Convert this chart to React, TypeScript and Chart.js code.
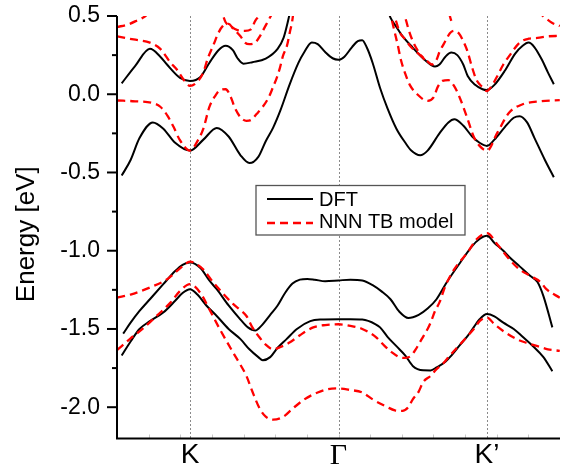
import React, { useEffect, useRef } from 'react';
import { Chart, registerables } from 'chart.js';

Chart.register(...registerables);

type P = [number, number];

// k-path coordinate: K = -1, Γ = 0, K' = 1
const K_POS = [-1, 0, 1];
const K_LABELS = ['K', 'Γ', 'K\u2019'];
const Y_MAJOR = [-2.0, -1.5, -1.0, -0.5, 0.0, 0.5];
const Y_MINOR = [-1.75, -1.25, -0.75, -0.25, 0.25];
const X_MIN = -1.4916;
const X_MAX = 1.4916;
const Y_MIN = -2.2;
const Y_MAX = 0.5;
const LEGEND_LABELS = ['DFT', 'NNN TB model'];
const Y_TITLE = 'Energy [eV]';

// ---------- DFT bands (black, solid) ----------
const dftA1: P[] = [
  [-1.46, 0.07], [-1.37, 0.18], [-1.27, 0.29], [-1.2, 0.24], [-1.155, 0.19], [-1.067, 0.105],
  [-1.0, 0.085], [-0.93, 0.11], [-0.87, 0.2], [-0.81, 0.28], [-0.76, 0.31], [-0.71, 0.28],
  [-0.68, 0.23], [-0.64, 0.195], [-0.58, 0.205], [-0.49, 0.228], [-0.41, 0.29], [-0.37, 0.36],
  [-0.34, 0.468], [-0.31, 0.6],
];
const dftA2: P[] = [
  [0.335, 0.53], [0.35, 0.49], [0.39, 0.43], [0.43, 0.373], [0.5, 0.298], [0.58, 0.22],
  [0.65, 0.177], [0.68, 0.19], [0.72, 0.24], [0.76, 0.266], [0.8, 0.25], [0.84, 0.19],
  [0.87, 0.117], [0.92, 0.06], [0.97, 0.032], [1.0, 0.027], [1.05, 0.06], [1.12, 0.15],
  [1.19, 0.26], [1.24, 0.31], [1.28, 0.33], [1.32, 0.3], [1.37, 0.22], [1.41, 0.14], [1.45, 0.064],
];
const dftB: P[] = [
  [-1.46, -0.52], [-1.4, -0.42], [-1.34, -0.28], [-1.25, -0.18], [-1.18, -0.22], [-1.1, -0.31],
  [-1.0, -0.36], [-0.91, -0.29], [-0.82, -0.215], [-0.74, -0.27], [-0.66, -0.39], [-0.6, -0.44],
  [-0.54, -0.4], [-0.49, -0.3], [-0.44, -0.213], [-0.39, -0.1], [-0.33, 0.06], [-0.27, 0.2],
  [-0.23, 0.27], [-0.18, 0.33], [-0.14, 0.32], [-0.09, 0.27], [-0.04, 0.23], [0.0, 0.22],
  [0.04, 0.24], [0.09, 0.3], [0.13, 0.34], [0.16, 0.345], [0.19, 0.3], [0.23, 0.2],
  [0.28, 0.04], [0.33, -0.09], [0.39, -0.22], [0.45, -0.31], [0.49, -0.36], [0.55, -0.39],
  [0.6, -0.36], [0.68, -0.25], [0.74, -0.18], [0.78, -0.16], [0.84, -0.2], [0.9, -0.27],
  [0.95, -0.31], [1.0, -0.33], [1.05, -0.29], [1.12, -0.21], [1.18, -0.15], [1.22, -0.14],
  [1.27, -0.18], [1.32, -0.28], [1.39, -0.42], [1.45, -0.53],
];
const dftC: P[] = [
  [-1.45, -1.53], [-1.4, -1.46], [-1.34, -1.385], [-1.27, -1.31], [-1.18, -1.214], [-1.1, -1.13],
  [-1.05, -1.09], [-1.0, -1.075], [-0.93, -1.11], [-0.87, -1.19], [-0.82, -1.246], [-0.74, -1.35],
  [-0.66, -1.44], [-0.61, -1.49], [-0.56, -1.51], [-0.52, -1.48], [-0.46, -1.41], [-0.41, -1.35],
  [-0.36, -1.27], [-0.31, -1.21], [-0.26, -1.185], [-0.21, -1.18], [-0.16, -1.185], [-0.09, -1.195],
  [0.0, -1.19], [0.08, -1.185], [0.16, -1.19], [0.23, -1.22], [0.29, -1.26], [0.35, -1.31],
  [0.41, -1.39], [0.47, -1.43], [0.54, -1.41], [0.6, -1.37], [0.66, -1.31], [0.73, -1.2],
  [0.82, -1.075], [0.9, -0.97], [0.95, -0.925], [1.0, -0.905], [1.05, -0.95], [1.11, -1.0],
  [1.15, -1.04], [1.22, -1.1], [1.29, -1.16], [1.34, -1.2], [1.38, -1.29], [1.44, -1.49],
];
const dftD: P[] = [
  [-1.46, -1.67], [-1.4, -1.58], [-1.34, -1.5], [-1.27, -1.45], [-1.18, -1.395], [-1.1, -1.32],
  [-1.05, -1.27], [-1.0, -1.246], [-0.95, -1.28], [-0.89, -1.35], [-0.82, -1.417], [-0.74, -1.5],
  [-0.66, -1.565], [-0.6, -1.63], [-0.54, -1.68], [-0.51, -1.7], [-0.46, -1.68], [-0.41, -1.62],
  [-0.35, -1.565], [-0.28, -1.5], [-0.19, -1.45], [-0.12, -1.44], [0.0, -1.438], [0.08, -1.438],
  [0.16, -1.44], [0.25, -1.47], [0.28, -1.49], [0.33, -1.55], [0.39, -1.61], [0.45, -1.67],
  [0.5, -1.736], [0.57, -1.764], [0.62, -1.765], [0.66, -1.746], [0.72, -1.71], [0.76, -1.67],
  [0.82, -1.6], [0.87, -1.544], [0.91, -1.49], [0.95, -1.438], [1.0, -1.405], [1.05, -1.42],
  [1.11, -1.46], [1.18, -1.5], [1.24, -1.55], [1.31, -1.61], [1.38, -1.68], [1.44, -1.77],
];

// ---------- NNN TB model bands (red, dashed) ----------
const tbR1: P[] = [
  [-1.49, -1.3], [-1.4, -1.28], [-1.27, -1.235], [-1.15, -1.18], [-1.1, -1.14], [-1.05, -1.1],
  [-1.0, -1.07], [-0.95, -1.09], [-0.9, -1.13], [-0.87, -1.17], [-0.8, -1.25], [-0.71, -1.34],
  [-0.66, -1.38], [-0.62, -1.417], [-0.58, -1.49], [-0.54, -1.544], [-0.49, -1.6], [-0.44, -1.63],
  [-0.39, -1.615], [-0.33, -1.587], [-0.26, -1.54], [-0.17, -1.49], [-0.09, -1.475], [0.0, -1.47],
  [0.08, -1.48], [0.16, -1.5], [0.25, -1.55], [0.31, -1.608], [0.36, -1.65], [0.41, -1.68],
  [0.45, -1.685], [0.49, -1.67], [0.52, -1.63], [0.56, -1.565], [0.6, -1.5], [0.62, -1.46],
  [0.65, -1.385], [0.68, -1.33], [0.72, -1.225], [0.78, -1.118], [0.87, -1.01], [0.93, -0.927],
  [1.0, -0.888], [1.07, -0.96], [1.15, -1.054], [1.22, -1.12], [1.29, -1.16], [1.36, -1.2],
  [1.4, -1.246], [1.49, -1.3],
];
const tbR2: P[] = [
  [-1.49, -1.634], [-1.4, -1.56], [-1.32, -1.5], [-1.24, -1.43], [-1.13, -1.33], [-1.07, -1.26],
  [-1.0, -1.214], [-0.93, -1.27], [-0.87, -1.374], [-0.8, -1.5], [-0.71, -1.65], [-0.66, -1.73],
  [-0.62, -1.8], [-0.58, -1.9], [-0.53, -2.01], [-0.49, -2.06], [-0.44, -2.08], [-0.37, -2.06],
  [-0.31, -2.01], [-0.23, -1.95], [-0.14, -1.906], [-0.07, -1.885], [0.0, -1.88], [0.08, -1.89],
  [0.16, -1.906], [0.23, -1.95], [0.33, -2.0], [0.38, -2.02], [0.43, -2.024], [0.47, -2.0],
  [0.5, -1.95], [0.54, -1.9], [0.57, -1.84], [0.62, -1.8], [0.66, -1.757], [0.7, -1.725],
  [0.75, -1.67], [0.83, -1.587], [0.87, -1.544], [0.92, -1.49], [0.95, -1.45], [1.0, -1.427],
  [1.05, -1.47], [1.12, -1.52], [1.2, -1.565], [1.27, -1.59], [1.34, -1.61], [1.41, -1.63], [1.49, -1.64],
];
const tbU2L: P[] = [
  [-1.49, -0.04], [-1.37, -0.045], [-1.25, -0.057], [-1.2, -0.08], [-1.15, -0.14], [-1.11, -0.21],
  [-1.07, -0.29], [-1.0, -0.36], [-0.95, -0.3], [-0.91, -0.22], [-0.87, -0.083], [-0.83, -0.01],
  [-0.8, 0.025], [-0.76, 0.032], [-0.72, -0.03], [-0.7, -0.083], [-0.66, -0.147], [-0.62, -0.17],
  [-0.59, -0.165], [-0.55, -0.125], [-0.51, -0.08], [-0.47, -0.02], [-0.441, 0.045], [-0.414, 0.11],
  [-0.394, 0.17], [-0.374, 0.245], [-0.347, 0.31], [-0.327, 0.4], [-0.313, 0.46], [-0.3, 0.55],
];
const tbU2R: P[] = [
  [0.34, 0.55], [0.36, 0.47], [0.38, 0.39], [0.4, 0.31], [0.42, 0.22], [0.45, 0.13],
  [0.48, 0.06], [0.53, 0.0], [0.6, -0.043], [0.64, -0.02], [0.67, 0.05], [0.7, 0.085],
  [0.74, 0.09], [0.78, 0.05], [0.82, -0.03], [0.87, -0.16], [0.91, -0.27], [0.95, -0.33],
  [1.0, -0.36], [1.07, -0.245], [1.15, -0.117], [1.24, -0.064], [1.36, -0.045], [1.49, -0.038],
];
const tbU1L: P[] = [
  [-1.49, 0.37], [-1.38, 0.35], [-1.27, 0.33], [-1.2, 0.29], [-1.13, 0.2], [-1.09, 0.16],
  [-1.04, 0.09], [-1.0, 0.053], [-0.95, 0.08], [-0.91, 0.14], [-0.88, 0.23], [-0.84, 0.32],
  [-0.81, 0.39], [-0.78, 0.435], [-0.74, 0.45], [-0.71, 0.42], [-0.66, 0.37], [-0.63, 0.33],
  [-0.6, 0.32], [-0.56, 0.33], [-0.53, 0.37], [-0.49, 0.44], [-0.45, 0.51], [-0.42, 0.56],
];
const tbU3L: P[] = [
  [-0.8, 0.57], [-0.78, 0.51], [-0.76, 0.46], [-0.72, 0.43], [-0.68, 0.41], [-0.63, 0.405],
  [-0.59, 0.415], [-0.56, 0.47], [-0.53, 0.51], [-0.51, 0.56],
];
const tbU0L: P[] = [[-1.49, 0.43], [-1.42, 0.445], [-1.36, 0.47], [-1.3, 0.5], [-1.26, 0.54]];
const tbU1R: P[] = [
  [0.36, 0.55], [0.39, 0.46], [0.41, 0.4], [0.45, 0.35], [0.49, 0.3], [0.55, 0.25],
  [0.6, 0.21], [0.63, 0.19], [0.66, 0.22], [0.68, 0.27], [0.72, 0.34], [0.75, 0.39],
  [0.78, 0.405], [0.81, 0.39], [0.84, 0.34], [0.87, 0.27], [0.9, 0.17], [0.93, 0.09],
  [0.97, 0.045], [1.0, 0.02], [1.03, 0.05], [1.07, 0.117], [1.11, 0.19], [1.15, 0.245],
  [1.22, 0.33], [1.28, 0.355], [1.34, 0.36], [1.41, 0.37], [1.49, 0.373],
];
const tbU5R: P[] = [[0.43, 0.56], [0.45, 0.49], [0.47, 0.42], [0.5, 0.34], [0.54, 0.27], [0.58, 0.22]];
const tbU3R: P[] = [[0.73, 0.6], [0.75, 0.5], [0.77, 0.44]];
const tbU0R: P[] = [[1.34, 0.53], [1.39, 0.49], [1.44, 0.455], [1.49, 0.436]];

const dftBands = [dftA1, dftA2, dftB, dftC, dftD];
const tbBands = [tbR1, tbR2, tbU2L, tbU2R, tbU1L, tbU3L, tbU0L, tbU1R, tbU5R, tbU3R, tbU0R];

const BLACK = '#000000';
const RED = '#ff0000';
const SANS = '"Liberation Sans", Arial, sans-serif';
const SERIF = '"Liberation Serif", "Times New Roman", serif';

const decor = {
  id: 'decor',
  beforeDatasetsDraw(chart: any) {
    const { ctx, chartArea: a, scales } = chart;
    const x = scales.x;
    ctx.save();
    ctx.strokeStyle = '#8a8a8a';
    ctx.lineWidth = 1;
    ctx.setLineDash([2, 2]);
    K_POS.forEach((v) => {
      const px = Math.round(x.getPixelForValue(v)) + 0.5;
      ctx.beginPath();
      ctx.moveTo(px, a.top);
      ctx.lineTo(px, a.bottom);
      ctx.stroke();
    });
    ctx.restore();
  },
  afterDatasetsDraw(chart: any) {
    const { ctx, chartArea: a, scales } = chart;
    const x = scales.x;
    const y = scales.y;
    ctx.save();
    // faint minor ticks on x axis
    ctx.strokeStyle = '#c8c8c8';
    ctx.lineWidth = 1;
    for (let k = 1; k < 14; k++) {
      const v = X_MIN + ((X_MAX - X_MIN) * k) / 14;
      const px = Math.round(x.getPixelForValue(v)) + 0.5;
      ctx.beginPath();
      ctx.moveTo(px, a.bottom - 4);
      ctx.lineTo(px, a.bottom);
      ctx.stroke();
    }
    // axes
    ctx.strokeStyle = '#000';
    ctx.lineWidth = 2;
    ctx.beginPath();
    ctx.moveTo(a.left, a.top);
    ctx.lineTo(a.left, a.bottom);
    ctx.lineTo(a.right, a.bottom);
    ctx.stroke();
    // y ticks
    Y_MAJOR.forEach((v) => {
      const py = y.getPixelForValue(v);
      ctx.beginPath();
      ctx.moveTo(a.left - 10, py);
      ctx.lineTo(a.left, py);
      ctx.stroke();
    });
    Y_MINOR.forEach((v) => {
      const py = y.getPixelForValue(v);
      ctx.beginPath();
      ctx.moveTo(a.left - 5, py);
      ctx.lineTo(a.left, py);
      ctx.stroke();
    });
    // y title
    ctx.fillStyle = '#000';
    ctx.font = `26px ${SANS}`;
    ctx.textAlign = 'center';
    ctx.textBaseline = 'alphabetic';
    ctx.save();
    ctx.translate(34, (a.top + a.bottom) / 2 + 7);
    ctx.rotate(-Math.PI / 2);
    ctx.fillText(Y_TITLE, 0, 0);
    ctx.restore();
    // legend
    const lx = 256, ly = 185.5, lw = 209, lh = 49.5;
    ctx.fillStyle = '#fff';
    ctx.fillRect(lx, ly, lw, lh);
    ctx.strokeStyle = '#555';
    ctx.lineWidth = 1.3;
    ctx.strokeRect(lx, ly, lw, lh);
    const rows = [199, 222.5];
    ctx.lineWidth = 2;
    ctx.strokeStyle = BLACK;
    ctx.beginPath();
    ctx.moveTo(267, rows[0]);
    ctx.lineTo(313, rows[0]);
    ctx.stroke();
    ctx.strokeStyle = RED;
    ctx.lineWidth = 2.3;
    ctx.setLineDash([8, 5]);
    ctx.beginPath();
    ctx.moveTo(267, rows[1] + 0.5);
    ctx.lineTo(313, rows[1] + 0.5);
    ctx.stroke();
    ctx.setLineDash([]);
    ctx.fillStyle = '#000';
    ctx.font = `20px ${SANS}`;
    ctx.textAlign = 'left';
    ctx.textBaseline = 'middle';
    ctx.fillText(LEGEND_LABELS[0], 319, rows[0] + 1);
    ctx.fillText(LEGEND_LABELS[1], 319, rows[1]);
    ctx.restore();
  },
};

export default function App() {
  const ref = useRef<HTMLCanvasElement>(null);
  useEffect(() => {
    const canvas = ref.current;
    if (!canvas) return;
    const mk = (pts: P[], red: boolean) => ({
      data: pts.map(([px, py]) => ({ x: px, y: py })),
      borderColor: red ? RED : BLACK,
      borderWidth: red ? 2.3 : 2,
      borderDash: red ? [8, 5] : [],
      pointRadius: 0,
      cubicInterpolationMode: 'monotone' as const,
      fill: false,
      order: red ? 0 : 1,
    });
    const chart = new Chart(canvas, {
      type: 'line',
      data: {
        datasets: [...dftBands.map((b) => mk(b, false)), ...tbBands.map((b) => mk(b, true))] as any,
      },
      options: {
        animation: false,
        responsive: false,
        maintainAspectRatio: false,
        events: [],
        layout: { padding: { top: 16, right: 15, left: 0, bottom: 0 } },
        plugins: { legend: { display: false }, tooltip: { enabled: false } },
        scales: {
          x: {
            type: 'linear',
            min: X_MIN,
            max: X_MAX,
            grid: { display: false, drawTicks: false },
            border: { display: false },
            afterBuildTicks: (s: any) => {
              s.ticks = K_POS.map((v) => ({ value: v }));
            },
            afterFit: (s: any) => {
              s.height = 27.5;
              s.paddingLeft = 0;
              s.paddingRight = 0;
            },
            ticks: {
              autoSkip: false,
              maxRotation: 0,
              padding: 0,
              color: '#000',
              callback: (_v: any, i: number) => K_LABELS[i],
              font: (c: any) =>
                c.index === 1 ? { family: SERIF, size: 30 } : { family: SANS, size: 28 },
            },
          },
          y: {
            type: 'linear',
            min: Y_MIN,
            max: Y_MAX,
            grid: { display: false, drawTicks: false },
            border: { display: false },
            afterBuildTicks: (s: any) => {
              s.ticks = Y_MAJOR.map((v) => ({ value: v }));
            },
            afterFit: (s: any) => {
              s.width = 117;
              s.paddingTop = 0;
              s.paddingBottom = 0;
            },
            ticks: {
              padding: 17,
              color: '#000',
              font: { family: SANS, size: 23 },
              callback: (v: any) => Number(v).toFixed(1),
            },
          },
        },
      } as any,
      plugins: [decor],
    });
    return () => chart.destroy();
  }, []);
  return (
    <div style={{ position: 'absolute', left: 0, top: 0, width: 575, height: 466, background: '#fff' }}>
      <canvas ref={ref} width={575} height={466} style={{ display: 'block' }} />
    </div>
  );
}
